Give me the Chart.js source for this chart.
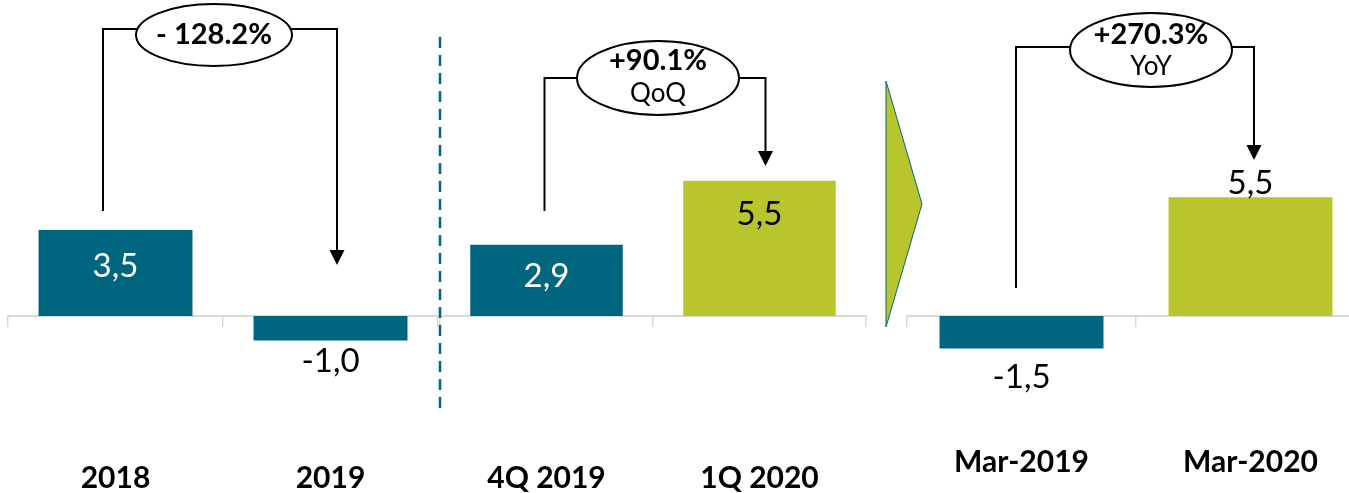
<!DOCTYPE html>
<html>
<head>
<meta charset="utf-8">
<script src="https://cdn.jsdelivr.net/npm/chart.js@4/dist/chart.umd.min.js"></script>
<style>
  html, body { margin: 0; padding: 0; background: #fff; overflow: hidden; }
  .stage { position: relative; width: 1349px; height: 493px; overflow: hidden; }
  .stage canvas { position: absolute; left: 0; top: 0; }
</style>
</head>
<body>
<div class="stage">
  <canvas id="annual" width="1349" height="493"></canvas>
  <canvas id="quarter" width="1349" height="493"></canvas>
  <canvas id="month" width="1380" height="493"></canvas>
</div>
<script>
// --- DATA --- //
const annualLabels = ['2018', '2019']
const annualValues = [3.5, -1.0]

const quarterLabels = ['4Q 2019', '1Q 2020']
const quarterValues = [2.9, 5.5]

const monthLabels = ['Mar-2019', 'Mar-2020']
const monthValues = [-1.5, 5.5]

const changeTexts = ['- 128.2%', '+90.1%', '+270.3%']
const changeSubTexts = ['', 'QoQ', 'YoY']

const TEAL = '#00657f'
const LIME = '#b8c52c'

// --- PLUGINS --- //
const valueLabels = {
  id: 'valueLabels',
  afterDatasetsDraw: (chart, args, opts) => {
    const ctx = chart.ctx
    const values = chart.data.datasets[0].data
    ctx.save()
    ctx.font = '33px Lato'
    ctx.textAlign = 'center'
    ctx.textBaseline = 'middle'
    chart.getDatasetMeta(0).data.forEach((bar, i) => {
      const v = values[i]
      const spot = opts.spots[i]
      let y
      if (spot.pos === 'in') y = bar.y + spot.dy
      else if (v < 0) y = bar.y + spot.dy
      else y = bar.y - spot.dy
      ctx.fillStyle = spot.color
      ctx.fillText(v.toFixed(1).replace('.', ','), bar.x, y)
    })
    ctx.restore()
  }
}

const bracket = {
  id: 'bracket',
  afterDraw: (chart, args, o) => {
    const ctx = chart.ctx
    const bars = chart.getDatasetMeta(0).data
    const x1 = bars[0].x + o.dx[0]
    const x2 = bars[1].x + o.dx[1]
    ctx.save()
    ctx.strokeStyle = '#000'
    ctx.fillStyle = '#000'
    ctx.lineWidth = 2
    ctx.beginPath()
    ctx.moveTo(x1, o.startY)
    ctx.lineTo(x1, o.topY)
    ctx.lineTo(x2, o.topY)
    ctx.lineTo(x2, o.tipY - 12)
    ctx.stroke()

    ctx.beginPath()
    ctx.moveTo(x2 - 7.5, o.tipY - 15)
    ctx.lineTo(x2 + 7.5, o.tipY - 15)
    ctx.lineTo(x2, o.tipY)
    ctx.closePath()
    ctx.fill()

    ctx.beginPath()
    ctx.ellipse(o.cx, o.cy, o.rx, o.ry, 0, 0, Math.PI * 2)
    ctx.fillStyle = '#fff'
    ctx.fill()
    ctx.stroke()

    ctx.fillStyle = '#000'
    ctx.textAlign = 'center'
    ctx.textBaseline = 'middle'
    ctx.font = 'bold 29px Lato'
    ctx.fillText(o.text, o.cx, o.textY)
    if (o.sub) {
      ctx.font = '26px Lato'
      ctx.fillText(o.sub, o.cx, o.subY)
    }
    ctx.restore()
  }
}

const dividers = {
  id: 'dividers',
  afterDraw: chart => {
    const ctx = chart.ctx
    const x = chart.chartArea.left
    ctx.save()
    // dashed separator
    ctx.strokeStyle = TEAL
    ctx.lineWidth = 2.5
    ctx.setLineDash([11, 7])
    ctx.beginPath()
    ctx.moveTo(x, 37)
    ctx.lineTo(x, 415)
    ctx.stroke()
    ctx.setLineDash([])
    // chevron
    ctx.beginPath()
    ctx.moveTo(886, 81)
    ctx.lineTo(922, 204)
    ctx.lineTo(886, 327)
    ctx.closePath()
    ctx.fillStyle = LIME
    ctx.fill()
    ctx.lineWidth = 1
    ctx.stroke()
    ctx.restore()
  }
}

// --- CHART FACTORY --- //
function makePanel (id, labels, values, colors, opts) {
  return new Chart(document.getElementById(id), {
    type: 'bar',
    data: {
      labels: labels,
      datasets: [{
        data: values,
        backgroundColor: colors,
        barPercentage: 0.716,
        categoryPercentage: 1
      }]
    },
    options: {
      responsive: false,
      animation: false,
      layout: { padding: { left: opts.left, right: opts.right, top: 0, bottom: 0 } },
      scales: {
        x: {
          position: { y: 0 },
          // tick padding pushes labels far down; keep it from eating the side space
          afterFit: scale => {
            scale.paddingLeft = 0
            scale.paddingRight = 0
          },
          grid: { drawOnChartArea: false, tickLength: 10, color: '#d9d9d9', lineWidth: 1.5 },
          border: { color: '#d9d9d9', width: 2 },
          ticks: {
            color: '#000',
            padding: opts.tickPad,
            font: { family: 'Lato', weight: 'bold', size: 30 }
          }
        },
        y: { display: false, min: opts.min, max: opts.max }
      },
      plugins: {
        legend: { display: false },
        tooltip: { enabled: false },
        valueLabels: { spots: opts.spots },
        bracket: opts.bracket
      }
    },
    plugins: opts.extra ? [valueLabels, bracket, opts.extra] : [valueLabels, bracket]
  })
}

makePanel('annual', annualLabels, annualValues, [TEAL, TEAL], {
  left: 8, right: 911, min: -7.2, max: 12.85, tickPad: 134,
  spots: [{ pos: 'in', dy: 36, color: '#fff' }, { pos: 'out', dy: 21, color: '#000' }],
  bracket: { dx: [-12.5, 6.5], startY: 211, topY: 29, tipY: 265, cx: 214, cy: 35, rx: 78, ry: 31, text: changeTexts[0], textY: 35, sub: changeSubTexts[0] }
})

makePanel('quarter', quarterLabels, quarterValues, [TEAL, LIME], {
  left: 440, right: 483, min: -7.2, max: 12.85, tickPad: 134,
  spots: [{ pos: 'in', dy: 32, color: '#fff' }, { pos: 'in', dy: 34, color: '#000' }],
  bracket: { dx: [-2, 6], startY: 211, topY: 78, tipY: 166, cx: 658, cy: 78, rx: 81, ry: 37, text: changeTexts[1], textY: 61, sub: changeSubTexts[1], subY: 94 },
  extra: dividers
})

makePanel('month', monthLabels, monthValues, [TEAL, LIME], {
  left: 907, right: 15, min: -8.19, max: 14.63, tickPad: 118,
  spots: [{ pos: 'out', dy: 29, color: '#000' }, { pos: 'out', dy: 14, color: '#000' }],
  bracket: { dx: [-5.5, 3.5], startY: 288, topY: 47, tipY: 160, cx: 1151, cy: 50, rx: 81, ry: 37, text: changeTexts[2], textY: 35, sub: changeSubTexts[2], subY: 67 }
})
</script>
</body>
</html>
